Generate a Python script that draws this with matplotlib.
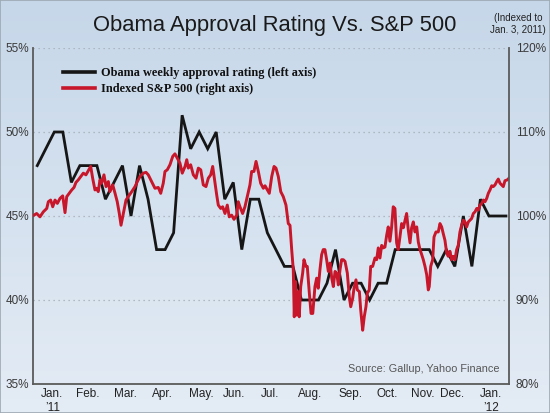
import matplotlib
matplotlib.use('Agg')
import matplotlib.pyplot as plt
from matplotlib.patches import Rectangle
import numpy as np

plt.rcParams['font.family'] = ['Liberation Sans', 'DejaVu Sans']

# Gallup weekly approval (%), one value per week starting the week of Jan. 3, 2011
approval = [48, 49, 50, 50, 47, 48, 48, 48, 46, 47,
            48, 45, 48, 46, 43, 43, 44, 51, 49, 50,
            49, 50, 46, 47, 43, 46, 46, 44, 43, 42,
            42, 40, 40, 40, 41, 43, 40, 41, 41, 40,
            41, 41, 43, 43, 43, 43, 43, 42, 43, 42,
            45, 42, 46, 45, 45, 45]
approval_day = [3.5 + 7 * i for i in range(len(approval))]  # days since Jan. 1, 2011

# S&P 500 indexed to Jan. 3, 2011 (=100)
sp_day = [0.8, 3.0, 5.7, 8.5, 11.3, 12.6, 14.5, 16.2, 18.1, 20.0,
          22.2, 24.4, 26.3, 27.7, 29.8, 31.8, 33.7, 35.3, 37.2, 39.2,
          41.3, 43.5, 45.4, 47.4, 49.0, 50.9, 52.3, 53.6, 55.0, 56.4,
          58.3, 60.0, 61.9, 63.2, 65.5, 67.4, 69.2, 70.9, 72.3, 74.2,
          76.4, 78.3, 81.1, 83.8, 85.7, 87.9, 90.6, 92.8, 94.7, 96.7,
          98.8, 100.2, 102.9, 104.9, 107.0, 108.4, 110.3, 112.5, 114.8, 116.6,
          118.5, 120.7, 122.6, 124.9, 126.3, 127.6, 129.5, 131.7, 133.9, 135.8,
          137.8, 139.9, 142.1, 144.0, 146.0, 147.6, 149.5, 150.9, 152.2, 154.2,
          155.8, 157.7, 159.6, 161.2, 163.2, 165.1, 167.3, 168.6, 170.0, 172.2,
          174.1, 176.0, 178.2, 179.6, 181.5, 183.2, 185.1, 187.0, 189.2, 190.6,
          192.5, 194.1, 196.1, 198.0, 199.6, 201.5, 203.5, 205.6, 207.8, 209.7,
          211.1, 212.5, 213.8, 214.6, 215.5, 216.6, 217.9, 218.7, 219.9, 221.5,
          222.6, 224.2, 225.3, 227.0, 228.4, 229.8, 231.6, 233.0, 234.3, 235.7,
          237.1, 238.4, 239.8, 241.2, 242.6, 244.0, 245.4, 246.7, 248.1, 249.5,
          250.8, 252.2, 253.5, 254.9, 256.3, 258.2, 259.8, 261.0, 262.6, 263.7,
          265.3, 266.4, 268.1, 269.2, 270.8, 272.1, 273.5, 274.6, 276.2, 277.4,
          279.0, 280.9, 282.3, 283.6, 285.0, 286.4, 287.7, 289.1, 290.5, 291.8,
          293.2, 294.6, 295.9, 297.3, 298.7, 300.0, 301.4, 302.8, 304.2, 305.6,
          306.9, 308.3, 309.7, 311.0, 312.4, 313.8, 315.2, 316.5, 317.9, 319.3,
          320.6, 322.0, 323.4, 324.7, 325.5, 326.7, 328.3, 329.4, 331.0, 332.9,
          334.3, 335.7, 337.0, 338.4, 339.8, 341.1, 342.5, 343.9, 345.2, 346.6,
          348.0, 349.3, 350.7, 352.1, 353.5, 354.8, 356.2, 357.6, 359.0, 360.3,
          361.7, 363.1, 364.5, 365.8, 367.2, 368.6, 369.9, 371.3, 372.7, 374.0,
          375.4, 376.8, 378.1, 379.5, 380.9, 382.2, 383.6, 385.0, 386.3, 387.7,
          389.6, 391.0]
sp_index = [100.1, 100.3, 99.9, 100.5, 100.9, 101.7, 101.9, 101.1, 101.9, 101.5,
            102.1, 102.4, 100.4, 102.3, 102.7, 103.1, 103.4, 104.0, 104.3, 104.7,
            105.1, 104.9, 105.4, 105.9, 104.5, 103.1, 103.3, 102.9, 104.3, 103.9,
            104.9, 103.5, 104.1, 102.9, 103.7, 102.7, 101.7, 100.3, 98.9, 100.3,
            101.9, 102.3, 102.9, 103.5, 104.1, 104.7, 105.1, 105.2, 104.9, 104.3,
            103.7, 103.3, 103.4, 102.7, 103.9, 105.3, 105.5, 106.1, 107.1, 107.4,
            106.9, 106.3, 105.1, 105.9, 106.7, 105.7, 106.1, 104.9, 104.5, 105.7,
            105.5, 103.7, 103.5, 104.5, 104.9, 105.9, 103.9, 102.5, 101.3, 100.9,
            101.1, 100.3, 101.3, 99.9, 100.1, 99.6, 100.1, 101.7, 101.1, 100.3,
            101.1, 102.3, 103.7, 105.3, 105.3, 106.5, 105.3, 103.9, 103.3, 103.6,
            103.1, 102.7, 104.7, 105.9, 105.7, 104.7, 102.9, 102.3, 101.3, 99.1,
            98.9, 96.0, 93.6, 88.0, 92.2, 88.2, 91.0, 88.0, 91.6, 93.2,
            94.8, 94.0, 94.0, 90.8, 88.4, 88.4, 91.6, 92.6, 91.4, 93.6,
            95.4, 96.0, 96.0, 94.8, 93.4, 94.4, 92.6, 91.6, 93.4, 93.2,
            91.8, 93.6, 94.8, 94.8, 94.6, 93.2, 90.4, 89.2, 90.2, 91.4,
            92.4, 91.2, 91.0, 88.8, 86.4, 88.0, 89.2, 90.8, 91.2, 94.0,
            94.0, 95.0, 94.8, 96.2, 95.0, 96.5, 96.2, 96.3, 97.7, 98.7,
            97.0, 98.7, 101.1, 100.9, 96.8, 96.0, 97.5, 99.1, 98.6, 99.5,
            100.3, 98.3, 96.8, 98.6, 99.3, 98.1, 98.7, 96.9, 96.0, 95.4,
            94.8, 94.0, 93.0, 91.2, 91.6, 94.0, 94.8, 97.5, 98.1, 98.1,
            99.1, 98.7, 97.9, 97.1, 95.6, 95.2, 95.8, 94.8, 95.2, 94.8,
            96.0, 96.5, 98.1, 98.9, 99.5, 99.3, 98.7, 99.3, 99.5, 99.7,
            100.3, 100.5, 100.9, 100.7, 101.3, 101.5, 101.9, 101.7, 102.1, 102.7,
            103.1, 103.6, 103.5, 103.7, 104.1, 104.4, 103.9, 103.7, 103.5, 104.2,
            104.3, 104.5]

month_labels = ['Jan.\n\u201911', 'Feb.', 'Mar.', 'Apr.', 'May.', 'Jun.', 'Jul.',
                'Aug.', 'Sep.', 'Oct.', 'Nov.', 'Dec.', 'Jan.\n\u201912']
month_pos = [16, 45, 76, 106, 138, 165, 195, 228, 261, 291, 320, 344, 376]
left_ticks = [35, 40, 45, 50, 55]
right_ticks = [80, 90, 100, 110, 120]

fig = plt.figure(figsize=(5.5, 4.13), dpi=100)

# light blue gradient backdrop
bg = fig.add_axes([0, 0, 1, 1])
grad = np.linspace(0, 1, 256).reshape(-1, 1)
top = np.array([0.776, 0.843, 0.914])
bot = np.array([0.894, 0.925, 0.961])
img = top + (bot - top) * grad[:, :, None]
bg.imshow(img, aspect='auto', extent=[0, 1, 0, 1])
bg.axis('off')
fig.patches.append(Rectangle((0, 0), 1, 1, transform=fig.transFigure,
                             fill=False, edgecolor='#9ea8b3', lw=1.2))

ax = fig.add_axes([33 / 550, 29 / 413, 476 / 550, 336 / 413])
ax.patch.set_visible(False)
ax2 = ax.twinx()

l1, = ax.plot(approval_day, approval, color='#161616', lw=2.0,
              solid_joinstyle='miter', label='Obama weekly approval rating (left axis)')
l2, = ax2.plot(sp_day, sp_index, color='#c8162a', lw=2.1,
               label='Indexed S&P 500 (right axis)')

ax.set_xlim(0, 391)
ax.set_ylim(35, 55)
ax2.set_ylim(80, 120)

ax.set_yticks(left_ticks)
ax.set_yticklabels([f'{v}%' for v in left_ticks])
ax2.set_yticks(right_ticks)
ax2.set_yticklabels([f'{v}%' for v in right_ticks])
ax.set_xticks(month_pos)
ax.set_xticklabels(month_labels)

ax.tick_params(axis='y', length=0, pad=3, labelsize=8.5, labelcolor='#3a3a3a')
ax2.tick_params(axis='y', length=0, pad=5, labelsize=8.5, labelcolor='#3a3a3a')
ax.tick_params(axis='x', length=0, pad=3, labelsize=8.5, labelcolor='#222222')

ax.grid(axis='y', color='#a3acb6', lw=0.9, linestyle=(0, (1, 3)))
ax.grid(axis='x', visible=False)

for a in (ax, ax2):
    a.spines['top'].set_visible(False)
    for s in a.spines.values():
        s.set_color('#5a5a5a')
        s.set_linewidth(1.3)
ax.spines['right'].set_visible(False)
ax2.spines['left'].set_visible(False)
ax2.spines['bottom'].set_visible(False)

leg = ax2.legend(handles=[l1, l2], loc='upper left', bbox_to_anchor=(0.063, 0.943),
                 frameon=False, handlelength=2.6, handletextpad=0.5,
                 borderpad=0, borderaxespad=0, labelspacing=0.3,
                 prop={'family': 'Liberation Serif', 'weight': 'bold', 'size': 8.8})
for ln in leg.get_lines():
    ln.set_linewidth(2.6)
for t in leg.get_texts():
    t.set_color('#111111')

fig.text(275 / 550, 1 - 31 / 413, 'Obama Approval Rating Vs. S&P 500',
         ha='center', va='baseline', fontsize=15.8, color='#1a1a1a')
fig.text(518 / 550, 1 - 24 / 413, '(Indexed to\nJan. 3, 2011)', ha='center',
         va='center', multialignment='center', fontsize=7, color='#222222',
         linespacing=1.15)
ax.text(0.98, 0.045, 'Source: Gallup, Yahoo Finance', transform=ax.transAxes,
        ha='right', va='center', fontsize=7.8, color='#555555')

fig.savefig('out.png', dpi=100)
